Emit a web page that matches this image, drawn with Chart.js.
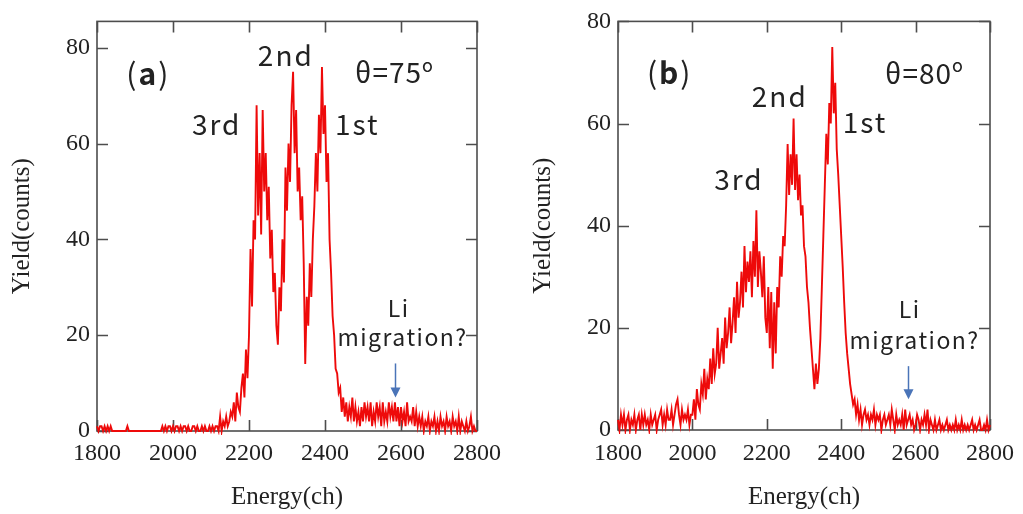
<!DOCTYPE html>
<html>
<head>
<meta charset="utf-8">
<script src="https://cdn.jsdelivr.net/npm/chart.js@4/dist/chart.umd.min.js"></script>
<style>
  html, body { margin: 0; padding: 0; background: #fff; width: 1023px; height: 514px; overflow: hidden; }
  canvas { position: absolute; top: 0; }
  #panelA { left: 0; }
  #panelB { left: 512px; }
</style>
</head>
<body>
<canvas id="panelA" width="511" height="514"></canvas>
<canvas id="panelB" width="511" height="514"></canvas>
<script>
// Spectrum sampling: one value every CHANNEL_STEP channels starting at CHANNEL_START
const CHANNEL_START = 1800;
const CHANNEL_STEP = 4;

const X_TICKS = [1800, 2000, 2200, 2400, 2600, 2800];
const Y_TICKS = [0, 20, 40, 60, 80];

// Yield (counts) at theta = 75 deg, channels 1800..2800 (25 values per 100 ch)
const yield75 = [
  1,0,1,1,0,1,0,1,0,1, 0,0,0,0,0,0,0,0,0,0, 1,0,0,0,0,
  0,0,0,0,0,0,0,0,0,0, 0,0,0,0,0,0,0,0,1,0, 1,0,1,1,0,
  1,0,1,1,0,1,0,1,1,0, 1,0,0,1,1,0,1,0,0,1, 0,1,0,0,1,
  0,1,0,1,1,0,3,0,2,1, 3,1,2,4,3,6,2,8,5,4, 9,12,7,17,11,
  20,38,26,44,40,68,45,58,41,67, 50,58,44,51,36,42,29,33,22,18, 30,25,40,31,55,
  46,60,52,68,75,58,67,50,55,44, 49,35,14,28,22,35,28,40,47,58, 50,66,58,76,62,
  68,52,58,40,33,24,20,13,12,8, 9,4,7,3,6,2,5,3,7,2, 5,2,4,1,5,
  2,6,3,5,2,6,1,4,2,6, 3,5,1,6,2,4,2,6,3,5, 2,6,2,5,1,
  5,2,4,1,6,2,3,2,5,1, 4,1,3,1,3,0,2,1,3,0, 2,1,3,0,2,
  0,3,1,2,0,3,1,2,0,3, 1,2,0,3,0,2,1,0,2,0, 1,3,0,1,0,
  0
];

// Yield (counts) at theta = 80 deg, channels 1800..2800 (25 values per 100 ch)
const yield80 = [
  2,0,3,1,3,0,2,3,0,2, 1,3,0,2,3,0,3,1,3,1, 2,0,3,1,2,
  3,0,2,3,4,1,3,1,4,2, 2,4,1,3,5,6,3,1,4,2, 3,2,4,1,3,
  3,6,2,8,5,4,9,7,12,6, 10,8,14,9,16,11,13,20,12,15, 18,13,22,16,19,
  24,17,21,26,19,29,22,25,31,24, 36,27,33,29,35,26,37,30,43,28, 35,31,26,34,22,
  19,28,16,27,12,25,15,28,24,34, 30,38,36,44,56,46,54,48,61,47, 54,45,50,42,44,
  36,34,28,25,20,16,12,8,13,9, 12,18,28,38,48,58,52,64,60,75, 62,68,55,50,44,
  38,32,25,19,15,12,9,7,5,6, 3,5,2,4,1,3,4,2,3,1, 3,2,4,1,3,
  2,3,0,2,3,1,2,3,1,4, 2,0,3,1,2,1,3,0,4,1, 2,3,1,2,0,
  1,3,2,0,2,1,3,1,4,0, 2,1,0,2,0,1,2,0,1,0, 1,2,0,1,0,
  1,0,2,0,1,0,2,0,1,0, 1,0,1,2,0,1,0,1,2,0, 0,1,0,2,0,
  1
];

const SERIF = '"Liberation Serif", "Times New Roman", serif';
const SANS = '"Noto Sans CJK JP", "Noto Sans", sans-serif';
const INK = '#222';

function toPoints(values) {
  return values.map((v, i) => ({ x: CHANNEL_START + i * CHANNEL_STEP, y: v }));
}

// Box frame with inward tick marks on all four sides
const framePlugin = {
  id: 'frame',
  beforeDatasetsDraw(chart) {
    const { ctx, chartArea: a, scales: { x, y } } = chart;
    const len = 11;
    ctx.save();
    ctx.strokeStyle = '#4d4d4d';
    ctx.lineWidth = 1.6;
    ctx.strokeRect(a.left, a.top, a.right - a.left, a.bottom - a.top);
    ctx.beginPath();
    x.ticks.forEach(t => {
      const px = Math.round(x.getPixelForValue(t.value)) + 0.5;
      ctx.moveTo(px, a.bottom); ctx.lineTo(px, a.bottom - len);
      ctx.moveTo(px, a.top); ctx.lineTo(px, a.top + len);
    });
    y.ticks.forEach(t => {
      const py = Math.round(y.getPixelForValue(t.value)) + 0.5;
      ctx.moveTo(a.left, py); ctx.lineTo(a.left + len, py);
      ctx.moveTo(a.right, py); ctx.lineTo(a.right - len, py);
    });
    ctx.stroke();
    ctx.restore();
  }
};

// Text notes and the arrow, placed in data coordinates
const notesPlugin = {
  id: 'notes',
  afterDatasetsDraw(chart, args, opts) {
    const { ctx, scales: { x, y } } = chart;
    ctx.save();
    ctx.fillStyle = INK;
    ctx.textBaseline = 'middle';
    (opts.items || []).forEach(item => {
      const cx = x.getPixelForValue(item.x);
      const cy = y.getPixelForValue(item.y);
      const parts = item.parts || [{ t: item.text }];
      ctx.letterSpacing = (item.spacing || 0) + 'px';
      const fonts = parts.map(p => `${p.w || 400} ${p.size || item.size}px ${SANS}`);
      let total = 0;
      const widths = parts.map((p, i) => { ctx.font = fonts[i]; const w = ctx.measureText(p.t).width; total += w; return w; });
      let px = cx - total / 2;
      parts.forEach((p, i) => {
        ctx.font = fonts[i];
        ctx.textAlign = 'left';
        ctx.fillText(p.t, px, cy + (p.dy || 0));
        px += widths[i];
      });
    });
    ctx.letterSpacing = '0px';
    const ar = opts.arrow;
    if (ar) {
      const ax = Math.round(x.getPixelForValue(ar.x)) + 0.5;
      const y1 = y.getPixelForValue(ar.from);
      const y2 = y.getPixelForValue(ar.to);
      const head = 10, half = 5;
      ctx.strokeStyle = '#4a74b8';
      ctx.fillStyle = '#4a74b8';
      ctx.lineWidth = 1.5;
      ctx.beginPath();
      ctx.moveTo(ax, y1); ctx.lineTo(ax, y2 - head + 1);
      ctx.stroke();
      ctx.beginPath();
      ctx.moveTo(ax - half, y2 - head); ctx.lineTo(ax + half, y2 - head); ctx.lineTo(ax, y2);
      ctx.closePath();
      ctx.fill();
    }
    ctx.restore();
  }
};

function makePanel(canvasId, values, cfg) {
  return new Chart(document.getElementById(canvasId), {
    type: 'line',
    data: {
      datasets: [{
        data: toPoints(values),
        borderColor: '#ee0a0a',
        borderWidth: 1.9,
        pointRadius: 0,
        tension: 0,
        clip: 4
      }]
    },
    options: {
      responsive: false,
      animation: false,
      events: [],
      layout: { padding: { left: 0, right: cfg.padRight, top: cfg.padTop, bottom: 0 } },
      scales: {
        x: {
          type: 'linear',
          min: 1800, max: 2800,
          afterFit: s => { s.height = cfg.xHeight; },
          afterBuildTicks: s => { s.ticks = X_TICKS.map(v => ({ value: v })); },
          grid: { display: false, drawTicks: false },
          border: { display: false },
          ticks: { color: INK, font: { family: SERIF, size: 24 }, padding: cfg.xTickPad, maxRotation: 0, autoSkip: false, callback: v => String(v) },
          title: { display: true, text: 'Energy(ch)', color: INK, font: { family: SERIF, size: 25 }, padding: { top: 0, bottom: 2 } }
        },
        y: {
          type: 'linear',
          min: 0, max: cfg.yMax,
          afterFit: s => { s.width = cfg.yWidth; },
          afterBuildTicks: s => { s.ticks = Y_TICKS.map(v => ({ value: v })); },
          grid: { display: false, drawTicks: false },
          border: { display: false },
          ticks: { color: INK, font: { family: SERIF, size: 24 }, padding: 7, callback: v => String(v) },
          title: { display: true, text: 'Yield(counts)', color: INK, font: { family: SERIF, size: 25 }, padding: { top: cfg.yTitlePad, bottom: 0 } }
        }
      },
      plugins: {
        legend: { display: false },
        tooltip: { enabled: false },
        notes: cfg.notes
      }
    },
    plugins: [framePlugin, notesPlugin]
  });
}

makePanel('panelA', yield75, {
  padRight: 34, padTop: 19, xHeight: 83, yWidth: 97, yMax: 85.5, xTickPad: 8, yTitlePad: 7,
  notes: {
    items: [
      { parts: [{ t: '(' }, { t: 'a', w: 700 }, { t: ')' }], x: 1935, y: 74.6, size: 30, spacing: 2 },
      { text: '2nd', x: 2297, y: 78.5, size: 28, spacing: 2 },
      { parts: [{ t: 'θ=75' }, { t: 'o', size: 18, dy: -8 }], x: 2583, y: 74.8, size: 28, spacing: 1 },
      { text: '3rd', x: 2115, y: 64, size: 28, spacing: 2 },
      { text: '1st', x: 2485, y: 64, size: 28, spacing: 2 },
      { text: 'Li', x: 2594, y: 25.7, size: 23, spacing: 1.5 },
      { text: 'migration?', x: 2604, y: 19.5, size: 23, spacing: 1.5 }
    ],
    arrow: { x: 2583, from: 14.1, to: 7 }
  }
});

makePanel('panelB', yield80, {
  padRight: 29, padTop: 19, xHeight: 84, yWidth: 106, yMax: 80, xTickPad: 9, yTitlePad: 16,
  notes: {
    items: [
      { parts: [{ t: '(' }, { t: 'b', w: 700 }, { t: ')' }], x: 1939, y: 69.9, size: 30, spacing: 2 },
      { parts: [{ t: 'θ=80' }, { t: 'o', size: 18, dy: -8 }], x: 2624, y: 69.9, size: 28, spacing: 1 },
      { text: '2nd', x: 2235, y: 65.4, size: 28, spacing: 2 },
      { text: '3rd', x: 2125, y: 49.1, size: 28, spacing: 2 },
      { text: '1st', x: 2464, y: 60.2, size: 28, spacing: 2 },
      { text: 'Li', x: 2584, y: 23.7, size: 23, spacing: 1.5 },
      { text: 'migration?', x: 2597, y: 17.5, size: 23, spacing: 1.5 }
    ],
    arrow: { x: 2579, from: 12.5, to: 6 }
  }
});
</script>
</body>
</html>
